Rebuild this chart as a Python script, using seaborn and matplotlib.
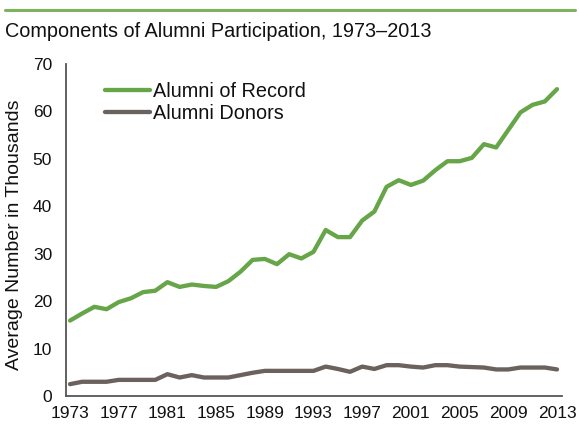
import numpy as np
import pandas as pd
import matplotlib
matplotlib.use("Agg")
import matplotlib.pyplot as plt
from matplotlib.lines import Line2D
import seaborn as sns

years = list(range(1973, 2014))
alumni_of_record = [15.9, 17.4, 18.8, 18.3, 19.8, 20.6, 21.9, 22.2, 24.0, 23.0,
                    23.5, 23.2, 23.0, 24.2, 26.2, 28.7, 28.9, 27.8, 29.9, 29.0,
                    30.4, 35.0, 33.5, 33.5, 37.0, 38.9, 44.1, 45.5, 44.5, 45.4,
                    47.6, 49.5, 49.5, 50.2, 53.1, 52.4, 56.1, 59.8, 61.4, 62.1,
                    64.7]
alumni_donors = [2.5, 3.0, 3.0, 3.0, 3.4, 3.4, 3.4, 3.4, 4.6, 3.9,
                 4.4, 3.9, 3.9, 3.9, 4.4, 4.9, 5.3, 5.3, 5.3, 5.3,
                 5.3, 6.2, 5.7, 5.1, 6.2, 5.7, 6.5, 6.5, 6.2, 6.0,
                 6.5, 6.5, 6.2, 6.1, 6.0, 5.6, 5.6, 6.0, 6.0, 6.0,
                 5.6]
series_names = ["Alumni of Record", "Alumni Donors"]
series_colors = ["#66a548", "#6b625e"]
x_ticks = list(range(1973, 2014, 4))
y_ticks = [0, 10, 20, 30, 40, 50, 60, 70]
title = "Components of Alumni Participation, 1973\u20132013"
y_label = "Average Number in Thousands"

df = pd.DataFrame({
    "Year": years * 2,
    "Value": alumni_of_record + alumni_donors,
    "Series": [series_names[0]] * len(years) + [series_names[1]] * len(years),
})

sns.set_theme(style="white")
plt.rcParams["font.family"] = ["Liberation Sans", "DejaVu Sans"]

W, H = 579, 426
fig = plt.figure(figsize=(W / 100, H / 100), dpi=100)
ax = fig.add_axes([66 / W, 1 - 396 / H, (562 - 66) / W, (396 - 64) / H])

sns.lineplot(data=df, x="Year", y="Value", hue="Series", hue_order=series_names,
             palette=series_colors, linewidth=3.1, ax=ax, legend=False)
for ln in ax.get_lines():
    ln.set_solid_joinstyle("round")
    ln.set_solid_capstyle("round")

ax.set_xlim(1972.67, 2013.41)
ax.set_ylim(0, 70)
ax.set_xticks(x_ticks)
ax.set_xticklabels([str(t) for t in x_ticks])
ax.set_yticks(y_ticks)
ax.set_yticklabels([str(t) for t in y_ticks])
ax.tick_params(axis="both", length=0, labelsize=12.5, colors="#111111")
ax.tick_params(axis="y", pad=10)
ax.tick_params(axis="x", pad=7.5)
ax.set_xlabel("")
ax.set_ylabel("")
for side in ["top", "right"]:
    ax.spines[side].set_visible(False)
for side in ["left", "bottom"]:
    ax.spines[side].set_color("#555555")
    ax.spines[side].set_linewidth(1.3)

handles = [Line2D([], [], color=c, lw=3.1) for c in series_colors]
leg = ax.legend(handles, series_names, loc="upper left",
                bbox_to_anchor=(105 / W, 1 - 82 / H), bbox_transform=fig.transFigure,
                frameon=False, fontsize=14.3, handlelength=2.25, handletextpad=0.15,
                labelspacing=0.15, borderpad=0, borderaxespad=0)
for t in leg.get_texts():
    t.set_color("#111111")

fig.add_artist(Line2D([5 / W, 575 / W], [1 - 10 / H, 1 - 10 / H], color="#7db35c",
                      lw=2.2, transform=fig.transFigure))
fig.text(5 / W, 1 - 37 / H, title, fontsize=14.3, color="#111111",
         ha="left", va="baseline")
fig.text(15 / W, 1 - 235 / H, y_label, fontsize=14, color="#111111",
         rotation=90, ha="center", va="center")

fig.savefig("out.png", dpi=100)
